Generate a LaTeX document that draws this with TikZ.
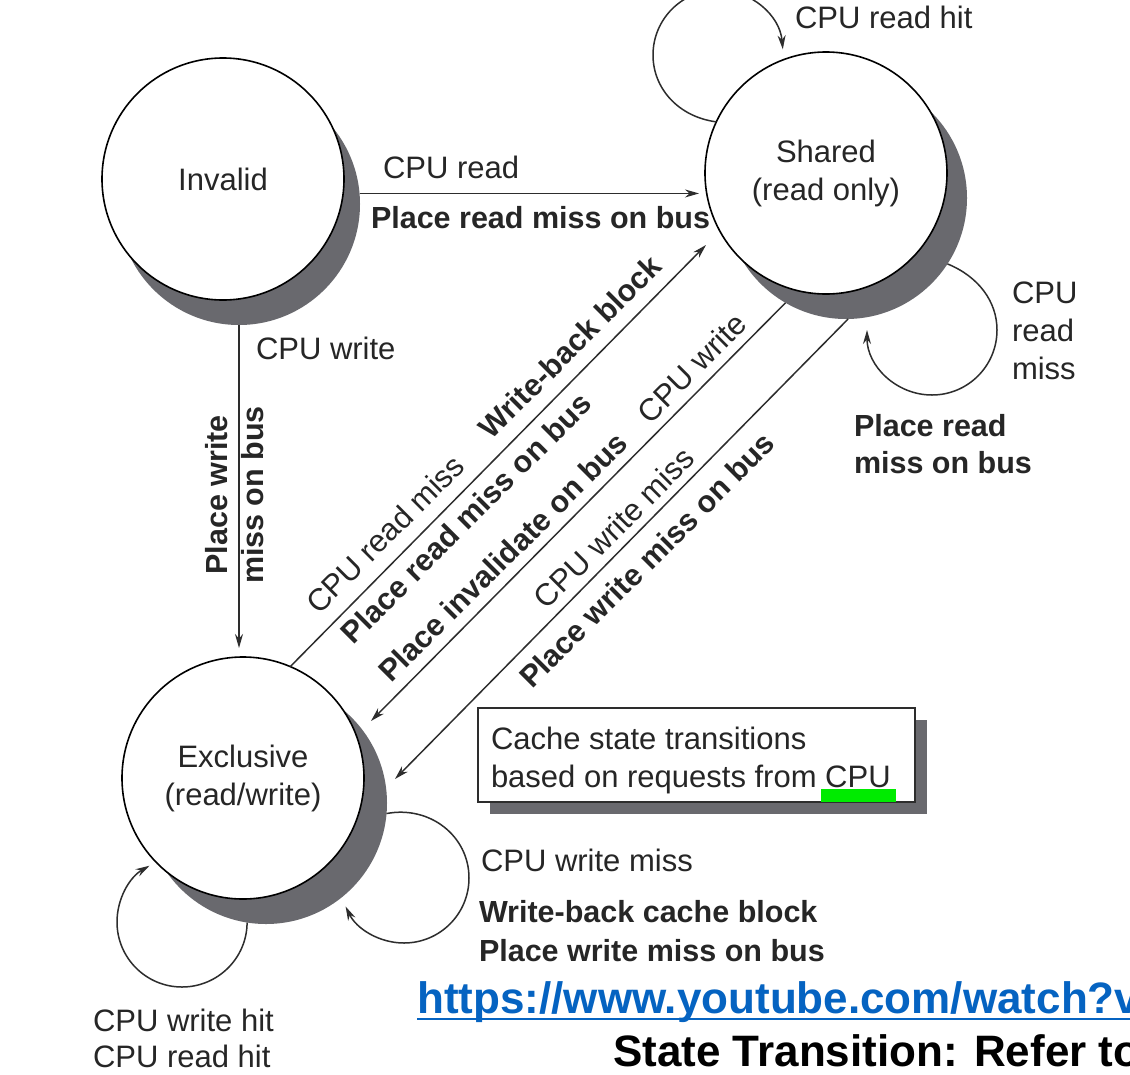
\documentclass[tikz,border=0pt]{standalone}
\usepackage{fontspec}
\setmainfont{Liberation Sans}
\usetikzlibrary{arrows.meta}
\definecolor{txt}{RGB}{38,38,38}
\definecolor{ln}{RGB}{45,45,45}
\definecolor{shd}{RGB}{105,105,110}
\definecolor{urlblue}{RGB}{5,99,193}
\definecolor{grn}{RGB}{0,235,0}
\begin{document}
\begin{tikzpicture}[x=1pt,y=-1pt,
  reg/.style={font=\fontsize{31}{38}\selectfont, text=txt, inner sep=0pt, outer sep=0pt},
  bld/.style={font=\bfseries\fontsize{30.5}{38}\selectfont, text=txt, inner sep=0pt, outer sep=0pt},
  statebox/.style={circle, draw=black, line width=1.6pt, fill=white, minimum size=242pt, inner sep=0pt, outer sep=0pt, align=center, font=\fontsize{31}{38}\selectfont, text=txt},
  shadowc/.style={circle, fill=shd, minimum size=242pt, inner sep=0pt, outer sep=0pt},
  arr/.style={draw=ln, line width=1.5pt, -{Stealth[length=14pt,width=8pt]}},
  diag/.style={rotate=45, anchor=center},
]
\useasboundingbox (0,0) rectangle (1130,1074);
\clip (0,0) rectangle (1130,1074);
\fill[white] (0,0) rectangle (1130,1074);

% shadows and states
\node[shadowc] (invsh) at (239,204) {};
\node[shadowc] (shsh) at (846,198) {};
\node[shadowc] (exsh) at (266,803) {};
\node[statebox] (inv) at (223,179) {Invalid};
\node[statebox] (shr) at (826,173) {Shared\\(read only)};
\node[statebox] (exc) at (243,778) {Exclusive\\(read/write)};

% straight transitions
\coordinate (t1) at (706,245);
\coordinate (t2) at (371,721);
\coordinate (t3) at (395,779);
\draw[arr, shorten >=6pt] (invsh.5) -- (invsh.5 -| shr.west);
\draw[arr, shorten >=9pt] (invsh.south) -- (invsh.south |- exc.north);
\draw[arr] (exc.67.6) -- (t1);
\draw[arr] (shsh.240) -- (t2);
\draw[arr] (shsh.271) -- (t3);

% loops
\draw[arr] (shr.155) .. controls (678.7,116.9) and (653,88.7) .. (653,55)
  .. controls (653,19.1) and (682.1,-10) .. (718,-10)
  .. controls (751.7,-10) and (779.9,15.7) .. (782.8,49.3);
\draw[arr] (shsh.-33.4) .. controls (978.8,276.7) and (997,301.8) .. (997,330)
  .. controls (997,365.9) and (967.9,395) .. (932,395)
  .. controls (896.1,395) and (867,365.9) .. (867,330);
\draw[arr] (exsh.261.4) .. controls (247,957.9) and (217.9,987) .. (182,987)
  .. controls (146.1,987) and (117,957.9) .. (117,922)
  .. controls (117,898.8) and (129.4,877.3) .. (149.5,865.7);
\draw[arr] (exsh.-5.4) .. controls (430.1,805.3) and (469,836.2) .. (469,878)
  .. controls (469,913.9) and (439.9,943) .. (404,943)
  .. controls (379.2,943) and (356.5,928.8) .. (345.6,906.5);

% horizontal / vertical labels
\node[reg, anchor=base west] (lcrh) at (795,28) {CPU read hit};
\node[reg, anchor=base west] (lcr) at (383,178) {CPU read};
\node[bld, anchor=base west] (lprm) at (371,228) {Place read miss on bus};
\node[reg, anchor=base west] (lcw) at (256,359) {CPU write};
\node[bld, rotate=90, anchor=base] (lpw1) at (227,495) {Place write};
\node[bld, rotate=90, anchor=base] (lpw2) at (263,495) {miss on bus};
\node[reg, anchor=north west, align=left] (lcrm) at (1012,282) {CPU\\read\\miss};
\node[bld, anchor=north west, align=left, font=\bfseries\fontsize{30.5}{37}\selectfont] (lprm2) at (854,414) {Place read\\miss on bus};
\node[reg, anchor=base west] (lcwm) at (481,871) {CPU write miss};
\node[bld, anchor=north west, align=left, font=\bfseries\fontsize{30.5}{39}\selectfont] (lwb) at (479,900) {Write-back cache block\\Place write miss on bus};
\node[reg, anchor=north west, align=left, font=\fontsize{31}{36}\selectfont] (lhit) at (93,1009) {CPU write hit\\CPU read hit};

% diagonal labels
\node[reg, diag] (dcrm) at (385,534) {CPU read miss};
\node[bld, diag] (dwbb) at (570,347) {Write-back block};
\node[bld, diag] (dprm) at (466,518) {Place read miss on bus};
\node[bld, diag] (dpib) at (503,557) {Place invalidate on bus};
\node[reg, diag] (dcw) at (692,368) {CPU write};
\node[reg, diag] (dcwm) at (614,528) {CPU write miss};
\node[bld, diag] (dpwm) at (647,560) {Place write miss on bus};

% legend box
\node[fill=shd, minimum width=437pt, minimum height=94pt, inner sep=0pt, anchor=north west] (boxsh) at (490,720) {};
\node[draw=ln, line width=1.6pt, fill=white, minimum width=437pt, minimum height=94pt, inner sep=0pt, anchor=north west] (box) at (477,707) {};
\node[reg, anchor=north west, align=left] (boxtxt) at (491,727) {Cache state transitions\\based on requests from CPU};
\fill[grn] (821,789) rectangle (896,802);

% footer
\node[anchor=base west, inner sep=0pt, font=\bfseries\fontsize{44}{50}\selectfont, text=urlblue] (url) at (417,1013) {https://www.youtube.com/watch?v};
\draw[urlblue, line width=2.5pt] ([yshift=-6pt]url.base west) -- ([yshift=-6pt]url.base east);
\node[anchor=base west, inner sep=0pt, font=\bfseries\fontsize{44}{50}\selectfont, text=black] (st) at (613,1066) {State Transition: Refer to};
\end{tikzpicture}
\end{document}
